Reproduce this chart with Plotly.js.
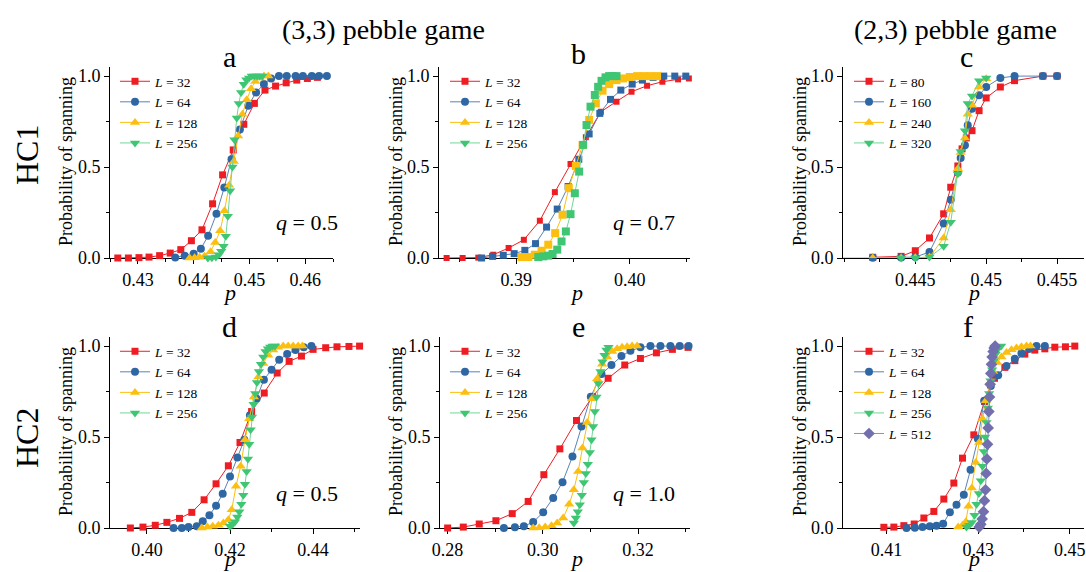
<!DOCTYPE html>
<html><head><meta charset="utf-8">
<script src="https://cdn.plot.ly/plotly-3.0.1.min.js"></script>
<style>html,body{margin:0;padding:0;background:#fff;}#chart{width:1086px;height:572px;}</style>
</head><body><div id="chart"></div>
<script>
// ---------- Panel a : HC1, (3,3) pebble game, q = 0.5 ----------
const a_p32 = [0.4264,0.4283,0.4302,0.4320,0.4339,0.4358,0.4377,0.4396,0.4415,0.4434,0.4452,0.4471,0.4490,0.4509,0.4528,0.4547,0.4566,0.4585,0.4604,0.4622];
const a_y32 = [0,0,0.002,0.005,0.013,0.027,0.046,0.095,0.155,0.298,0.457,0.594,0.735,0.850,0.923,0.945,0.963,0.978,0.987,0.993];
const a_p64 = [0.4367,0.4384,0.4400,0.4413,0.4426,0.4441,0.4455,0.4468,0.4483,0.4498,0.4512,0.4526,0.4539,0.4553,0.4567,0.4583,0.4596,0.4612,0.4625,0.4639];
const a_y64 = [0.003,0.013,0.024,0.051,0.122,0.243,0.388,0.543,0.707,0.837,0.910,0.956,0.987,1,1,1,1,1,1,1];
const a_p128 = [0.43929,0.44018,0.44107,0.44196,0.44304,0.44387,0.44476,0.44554,0.44637,0.4472,0.44798,0.44875,0.44952,0.4503,0.45107,0.45185,0.45262,0.4534];
const a_y128 = [0,0.002,0.004,0.01,0.035,0.085,0.15,0.26,0.40,0.53,0.67,0.79,0.87,0.93,0.97,0.99,1.0,1.0];
const a_p256 = [0.44256,0.44327,0.44399,0.44452,0.44494,0.44536,0.44577,0.44613,0.44655,0.44696,0.44732,0.44774,0.4481,0.44851,0.44899,0.44946,0.44994,0.45042,0.45089,0.45137,0.45185,0.45232];
const a_y256 = [0,0.002,0.005,0.018,0.037,0.064,0.119,0.23,0.37,0.50,0.65,0.77,0.85,0.91,0.955,0.98,0.99,1,1,1,1,1];

// ---------- Panel b : HC1, (3,3) pebble game, q = 0.7 ----------
const b_p32 = [0.38387,0.38528,0.38666,0.38798,0.38933,0.39067,0.39208,0.3934,0.39478,0.39613,0.39745,0.39883,0.40015,0.40152,0.40287,0.40425,0.4052];
const b_y32 = [0,0,0.002,0.018,0.055,0.10,0.205,0.362,0.517,0.664,0.804,0.859,0.914,0.947,0.969,0.982,0.987];
const b_p64 = [0.38695,0.38792,0.38886,0.38982,0.39076,0.3917,0.39267,0.39361,0.39457,0.39551,0.39642,0.39736,0.3983,0.39921,0.40021,0.40111,0.40205,0.40299,0.40396,0.40493];
const b_y64 = [0,0.009,0.015,0.024,0.042,0.079,0.170,0.269,0.393,0.543,0.682,0.795,0.872,0.923,0.956,0.978,0.993,1,1,1];
const b_p128 = [0.39047,0.39106,0.39164,0.39223,0.39282,0.39343,0.39408,0.39463,0.39525,0.39584,0.39642,0.39701,0.3976,0.39818,0.39883,0.39941,0.4,0.40065,0.40123,0.40182,0.4024];
const b_y128 = [0.005,0.005,0.018,0.04,0.073,0.137,0.238,0.384,0.506,0.621,0.759,0.85,0.92,0.956,0.978,0.987,0.995,1,1,1,1];
const b_p256 = [0.39194,0.39238,0.39282,0.3932,0.39361,0.39399,0.39437,0.39478,0.39516,0.39554,0.39589,0.39619,0.39654,0.39692,0.39721,0.39751,0.39786,0.39818,0.39848,0.39883];
const b_y256 = [0.005,0.009,0.013,0.022,0.046,0.091,0.146,0.241,0.356,0.475,0.622,0.731,0.832,0.896,0.941,0.974,0.993,1,1,1];

// ---------- Panel c : HC1, (2,3) pebble game ----------
const c_p80 = [0.442,0.444,0.445,0.446,0.447,0.4475,0.448,0.4483,0.4486,0.449,0.4495,0.450,0.451,0.452,0.454,0.455];
const c_y80 = [0.004,0.009,0.04,0.11,0.243,0.389,0.506,0.60,0.66,0.70,0.81,0.88,0.94,0.975,1.0,1.0];
const c_p160 = [0.442,0.444,0.445,0.446,0.447,0.4475,0.448,0.4482,0.4485,0.4487,0.449,0.4495,0.450,0.451,0.452,0.454,0.455];
const c_y160 = [0.002,0.003,0.005,0.033,0.19,0.32,0.47,0.55,0.62,0.73,0.82,0.895,0.94,0.99,1.0,1.0,1.0];
const c_p240 = [0.439,0.442,0.444,0.445,0.446,0.447,0.4475,0.448,0.4482,0.4485,0.4487,0.449,0.4495,0.450];
const c_y240 = [0,0,0,0.002,0.005,0.11,0.265,0.49,0.58,0.66,0.79,0.84,0.94,0.985];
const c_p320 = [0.444,0.445,0.446,0.447,0.4475,0.448,0.4482,0.4485,0.4487,0.449,0.4495,0.450];
const c_y320 = [0,0,0.005,0.064,0.197,0.463,0.585,0.70,0.85,0.89,0.975,0.99];

// ---------- Panel d : HC2, (3,3) pebble game, q = 0.5 ----------
const d_p32 = [0.396,0.39904,0.402,0.4048,0.40784,0.4108,0.41376,0.41664,0.4196,0.4224,0.4252,0.42824,0.43136,0.43424,0.4372,0.44,0.44304,0.44576,0.44864,0.4512];
const d_y32 = [0,0.005,0.015,0.031,0.053,0.086,0.155,0.243,0.342,0.470,0.64,0.742,0.852,0.916,0.945,0.982,0.991,0.996,0.998,1.0];
const d_p64 = [0.4064,0.4084,0.41,0.412,0.41344,0.41504,0.41664,0.41824,0.42,0.42176,0.42344,0.4248,0.4264,0.42816,0.43,0.43184,0.43376,0.43576,0.43776,0.4396];
const d_y64 = [0,0,0.005,0.009,0.037,0.07,0.122,0.188,0.283,0.388,0.485,0.62,0.71,0.815,0.87,0.925,0.956,0.978,0.993,1.0];
const d_p128 = [0.4132,0.41456,0.41584,0.4172,0.4184,0.4196,0.4204,0.42144,0.42256,0.4236,0.42464,0.42576,0.4268,0.428,0.4292,0.4304,0.4316,0.4328,0.434,0.4352,0.4364,0.43744];
const d_y128 = [0,0.005,0.009,0.015,0.027,0.046,0.10,0.23,0.34,0.485,0.60,0.72,0.83,0.905,0.95,0.978,0.993,1,1,1,1,1];
const d_p256 = [0.42,0.42064,0.4212,0.42176,0.42224,0.42272,0.4232,0.4236,0.424,0.42432,0.42464,0.42496,0.42528,0.42568,0.42608,0.42648,0.42696,0.42744,0.428,0.42856,0.42912,0.42968,0.43024,0.4308];
const d_y256 = [0.01,0.02,0.035,0.06,0.09,0.13,0.18,0.24,0.31,0.38,0.46,0.54,0.61,0.68,0.74,0.80,0.86,0.90,0.94,0.97,0.985,0.995,1.0,1.0];

// ---------- Panel e : HC2, (3,3) pebble game, q = 1.0 ----------
const e_p32 = [0.28,0.28329,0.28664,0.29014,0.29357,0.29692,0.30021,0.30357,0.30706,0.31042,0.31371,0.3172,0.32049,0.32385,0.3272,0.33049];
const e_y32 = [0,0.005,0.022,0.04,0.079,0.146,0.293,0.435,0.591,0.722,0.823,0.896,0.932,0.963,0.982,0.993];
const e_p64 = [0.29182,0.29413,0.29601,0.29797,0.30007,0.30217,0.30413,0.30622,0.30811,0.31007,0.31231,0.3144,0.3165,0.31839,0.32049,0.32259,0.32469,0.32678,0.32874,0.3306];
const e_y64 = [0,0.004,0.009,0.033,0.086,0.165,0.252,0.393,0.558,0.722,0.846,0.896,0.945,0.974,0.993,1,1,1,1,1];
const e_p128 = [0.29797,0.29923,0.30049,0.30182,0.30301,0.30427,0.30552,0.3065,0.30741,0.30832,0.3093,0.31035,0.3114,0.31245,0.3135,0.31455,0.3156,0.31664,0.31769,0.31874,0.31979];
const e_y128 = [0,0.002,0.005,0.013,0.027,0.055,0.13,0.21,0.31,0.44,0.58,0.71,0.82,0.90,0.94,0.97,0.985,0.993,0.997,1,1];
const e_p256 = [0.3065,0.30692,0.30734,0.30776,0.30818,0.3086,0.30902,0.30944,0.30986,0.31021,0.31056,0.31091,0.31126,0.31168,0.3121,0.31252,0.31294,0.31336,0.31378];
const e_y256 = [0.027,0.055,0.09,0.128,0.18,0.25,0.30,0.35,0.415,0.485,0.558,0.64,0.72,0.795,0.86,0.914,0.95,0.978,0.993];

// ---------- Panel f : HC2, (2,3) pebble game ----------
const f_p32 = [0.40942,0.4116,0.41378,0.41604,0.41815,0.42033,0.42251,0.42469,0.42658,0.42905,0.43138,0.43356,0.43582,0.438,0.44018,0.44236,0.44455,0.44673,0.44905,0.45109];
const f_y32 = [0.004,0.005,0.013,0.022,0.055,0.091,0.159,0.247,0.384,0.512,0.695,0.823,0.883,0.92,0.956,0.978,0.985,0.994,0.996,1.0];
const f_p64 = [0.41436,0.41618,0.41785,0.41945,0.42091,0.42236,0.42382,0.42527,0.42687,0.42833,0.42993,0.43131,0.43276,0.43436,0.43618,0.438,0.43945,0.44113,0.44273,0.44455];
const f_y64 = [0,0.002,0.005,0.009,0.013,0.024,0.086,0.128,0.183,0.32,0.49,0.70,0.78,0.84,0.89,0.93,0.96,0.985,1.0,1.0];
const f_p128 = [0.42564,0.42658,0.42731,0.42789,0.42862,0.42949,0.43022,0.43095,0.43167,0.43255,0.43327,0.43415,0.43509,0.43618,0.43727,0.43836,0.43945,0.44055,0.44142];
const f_y128 = [0.005,0.015,0.035,0.12,0.22,0.36,0.47,0.60,0.70,0.80,0.86,0.91,0.94,0.965,0.98,0.99,0.996,1.0,1.0];
const f_p256 = [0.42745,0.42804,0.42862,0.4292,0.42964,0.43015,0.43058,0.43095,0.43124,0.43153,0.43182,0.43211,0.4324,0.43269,0.43305,0.43342,0.43378,0.43415,0.43458,0.43502];
const f_y256 = [0.005,0.015,0.03,0.07,0.13,0.19,0.26,0.34,0.42,0.50,0.58,0.66,0.74,0.81,0.87,0.92,0.955,0.98,0.993,1.0];
const f_p512 = [0.43022,0.43058,0.43087,0.43116,0.43138,0.4316,0.43175,0.43189,0.43204,0.43218,0.43233,0.43247,0.43262,0.43276,0.43291,0.43305,0.43327,0.43349,0.43371];
const f_y512 = [0.005,0.02,0.05,0.09,0.15,0.21,0.30,0.38,0.46,0.55,0.64,0.72,0.79,0.85,0.90,0.94,0.97,0.99,1.0];

// legend labels
const labels33 = ['<i>L</i> = 32','<i>L</i> = 64','<i>L</i> = 128','<i>L</i> = 256'];
const labelsC = ['<i>L</i> = 80','<i>L</i> = 160','<i>L</i> = 240','<i>L</i> = 320'];
const labelsF = ['<i>L</i> = 32','<i>L</i> = 64','<i>L</i> = 128','<i>L</i> = 256','<i>L</i> = 512'];

// ---------- styling ----------
const W = 1086, H = 572;
const FONT = 'Liberation Serif';
const STY = [
  {m:'#ee1d23', l:'#ee1d23', s:'square', z:7},
  {m:'#2e67a4', l:'#5a83b8', s:'circle', z:8},
  {m:'#fcbf10', l:'#fcbf10', s:'triangle-up', z:9},
  {m:'#3fc672', l:'#72d698', s:'triangle-down', z:9},
  {m:'#716fae', l:'#8e8cc0', s:'diamond', z:9}
];

const traces = [];
function addPanel(idx, series, names, legendName, forceSymbol, clipIdx){
  const xa = idx === 1 ? 'x' : 'x' + idx;
  const ya = idx === 1 ? 'y' : 'y' + idx;
  series.forEach((sr, i) => {
    const st = STY[i];
    traces.push({
      type:'scatter', mode:'lines+markers', x: sr[0], y: sr[1], xaxis: xa, yaxis: ya,
      name: names[i], legend: legendName, showlegend: !forceSymbol, cliponaxis: i === clipIdx,
      line:{color: st.l, width:1},
      marker:{symbol: forceSymbol || st.s, size: forceSymbol ? st.z-1 : st.z, color: st.m, line:{width:0}}
    });
  });
  if (forceSymbol) {
    series.forEach((sr, i) => {
      const st = STY[i];
      traces.push({
        type:'scatter', mode:'lines+markers', x:[null], y:[null], xaxis: xa, yaxis: ya,
        name: names[i], legend: legendName, showlegend:true,
        line:{color: st.l, width:1},
        marker:{symbol: st.s, size: st.z, color: st.m, line:{width:0}}
      });
    });
  }
}
addPanel(1, [[a_p32,a_y32],[a_p64,a_y64],[a_p128,a_y128],[a_p256,a_y256]], labels33, 'legend');
addPanel(2, [[b_p32,b_y32],[b_p64,b_y64],[b_p128,b_y128],[b_p256,b_y256]], labels33, 'legend2', 'square');
addPanel(3, [[c_p80,c_y80],[c_p160,c_y160],[c_p240,c_y240],[c_p320,c_y320]], labelsC, 'legend3', null, 2);
addPanel(4, [[d_p32,d_y32],[d_p64,d_y64],[d_p128,d_y128],[d_p256,d_y256]], labels33, 'legend4');
addPanel(5, [[e_p32,e_y32],[e_p64,e_y64],[e_p128,e_y128],[e_p256,e_y256]], labels33, 'legend5');
addPanel(6, [[f_p32,f_y32],[f_p64,f_y64],[f_p128,f_y128],[f_p256,f_y256],[f_p512,f_y512]], labelsF, 'legend6');

const dx = (a,b) => [a/W, b/W];
const dy = (top,bottom) => [1-bottom/H, 1-top/H];
const axBase = {showline:true, linecolor:'#000', linewidth:1, ticks:'outside', ticklen:5, tickwidth:1, tickcolor:'#000',
  showgrid:false, zeroline:false, layer:'below traces', tickfont:{family:FONT, size:18, color:'#000'}, fixedrange:true};
function xax(domain, range, extra){ return Object.assign({}, axBase, {domain, range}, extra); }
function yax(domain, anchor){ return Object.assign({}, axBase, {domain, range:[0,1.05], anchor, tick0:0, dtick:0.5, tickformat:'.1f',
  minor:{dtick:0.25, ticklen:3, ticks:'outside', tickcolor:'#000'}}); }
const minorX = (d, t0) => ({dtick:d, tick0:t0, ticklen:3, ticks:'outside', tickcolor:'#000'});

function legendAt(px, py){ return {x:px/W, y:1-py/H, xanchor:'left', yanchor:'top', bgcolor:'rgba(0,0,0,0)',
  borderwidth:0, font:{family:FONT, size:13.5, color:'#000'}, itemwidth:30, tracegroupgap:0, itemclick:false}; }

function ann(text, px, py, size, extra){ return Object.assign({text, x:px/W, y:1-py/H, xref:'paper', yref:'paper',
  showarrow:false, xanchor:'center', yanchor:'middle', font:{family:FONT, size, color:'#000'}}, extra||{}); }

const layout = {
  width:W, height:H, autosize:false, margin:{l:0,r:0,t:0,b:0}, paper_bgcolor:'#fff', plot_bgcolor:'rgba(0,0,0,0)',
  font:{family:FONT, color:'#000'},
  xaxis:  xax(dx(110,333), [0.425,0.465], {anchor:'y',  tick0:0.43, dtick:0.01, tickformat:'.2f', minor:minorX(0.005,0.425)}),
  xaxis2: xax(dx(439,690), [0.3832,0.4053], {anchor:'y2', tick0:0.39, dtick:0.01, tickformat:'.2f', minor:minorX(0.005,0.385)}),
  xaxis3: xax(dx(843,1084), [0.4399,0.4569], {anchor:'y3', tickmode:'array', tickvals:[0.445,0.45,0.455], ticktext:['0.445','0.45','0.455'], minor:minorX(0.0025,0.4425)}),
  xaxis4: xax(dx(110,360), [0.3911,0.4513], {anchor:'y4', tick0:0.40, dtick:0.02, tickformat:'.2f', minor:minorX(0.01,0.39)}),
  xaxis5: xax(dx(440,690), [0.2784,0.3309], {anchor:'y5', tick0:0.28, dtick:0.02, tickformat:'.2f', minor:minorX(0.01,0.27)}),
  xaxis6: xax(dx(843,1084), [0.4005,0.4531], {anchor:'y6', tick0:0.41, dtick:0.02, tickformat:'.2f', minor:minorX(0.01,0.40)}),
  yaxis:  yax(dy(67,258), 'x'),
  yaxis2: yax(dy(67,258), 'x2'),
  yaxis3: yax(dy(67,258), 'x3'),
  yaxis4: yax(dy(337,528), 'x4'),
  yaxis5: yax(dy(337,528), 'x5'),
  yaxis6: yax(dy(337,528), 'x6'),
  legend:  legendAt(115,66),
  legend2: legendAt(445,66),
  legend3: legendAt(849,66),
  legend4: legendAt(115,336),
  legend5: legendAt(445,336),
  legend6: legendAt(849,336),
  annotations: [
    ann('(3,3) pebble game', 383, 29, 28),
    ann('(2,3) pebble game', 955, 29, 28),
    ann('a', 230, 56, 30), ann('b', 578, 54, 30), ann('c', 966, 56, 30),
    ann('d', 230, 326, 30), ann('e', 578, 326, 30), ann('f', 968, 326, 30),
    ann('HC1', 27, 155, 32, {textangle:-90}),
    ann('HC2', 27, 438, 32, {textangle:-90}),
    ann('Probability of spanning', 66, 162, 18, {textangle:-90}),
    ann('Probability of spanning', 66, 432, 18, {textangle:-90}),
    ann('Probability of spanning', 396, 162, 18, {textangle:-90}),
    ann('Probability of spanning', 396, 432, 18, {textangle:-90}),
    ann('Probability of spanning', 800, 162, 18, {textangle:-90}),
    ann('Probability of spanning', 800, 432, 18, {textangle:-90}),
    ann('<i>p</i>', 230, 292, 22, {borderpad:0}), ann('<i>p</i>', 576, 292, 22, {borderpad:0}), ann('<i>p</i>', 973, 292, 22, {borderpad:0}),
    ann('<i>p</i>', 230, 572, 22, {yanchor:'bottom', borderpad:0}), ann('<i>p</i>', 576, 572, 22, {yanchor:'bottom', borderpad:0}), ann('<i>p</i>', 973, 572, 22, {yanchor:'bottom', borderpad:0}),
    ann('<i>q</i> = 0.5', 307, 223, 22), ann('<i>q</i> = 0.7', 644, 223, 22),
    ann('<i>q</i> = 0.5', 307, 493, 22), ann('<i>q</i> = 1.0', 644, 493, 22)
  ]
};
Plotly.newPlot('chart', traces, layout, {staticPlot:true, displayModeBar:false});
</script></body></html>
